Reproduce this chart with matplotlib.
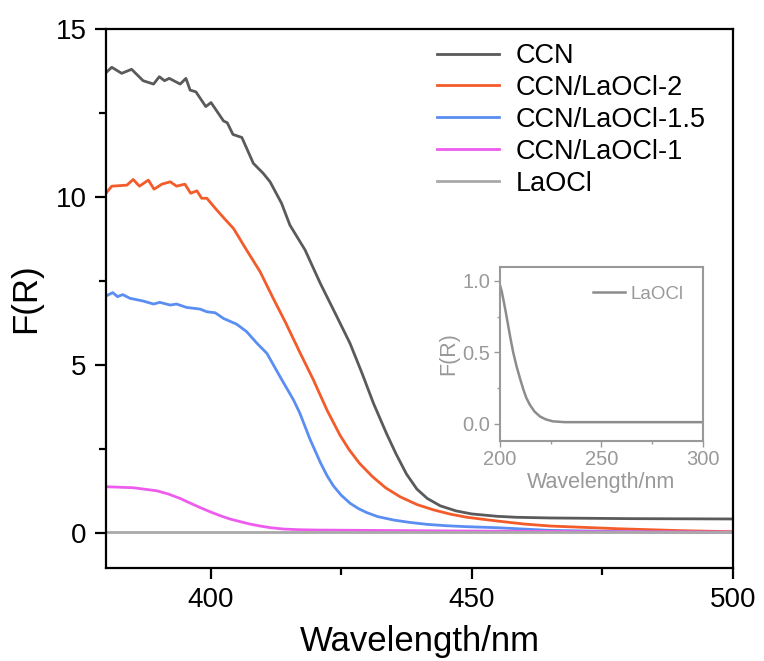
import matplotlib
matplotlib.use("Agg")
import matplotlib.pyplot as plt
from matplotlib.ticker import MultipleLocator

plt.rcParams['font.family'] = ['Liberation Sans', 'DejaVu Sans']

# ---- data ----
ccn_x = [380.0, 381.1, 383.0, 384.9, 387.1, 389.1, 390.2, 391.2, 392.1, 394.2, 395.3, 396.1,
         397.2, 399.1, 400.1, 402.5, 403.2, 404.3, 406.0, 408.2, 410.1, 411.4, 413.6, 415.2,
         418.1, 421.0, 424.2, 426.7, 429.0, 431.2, 433.7, 435.5, 437.5, 439.5, 441.5, 444.0,
         447.0, 450.0, 454.8, 458.6, 465.0, 480.0, 500.0]
ccn_y = [13.70, 13.86, 13.68, 13.80, 13.46, 13.36, 13.58, 13.46, 13.53, 13.36, 13.53, 13.18,
         13.13, 12.69, 12.81, 12.26, 12.21, 11.86, 11.77, 11.00, 10.70, 10.45, 9.81, 9.16,
         8.42, 7.43, 6.43, 5.64, 4.75, 3.85, 2.95, 2.35, 1.75, 1.30, 1.02, 0.80,
         0.65, 0.56, 0.49, 0.46, 0.44, 0.42, 0.41]

l2_x = [380.0, 381.1, 384.0, 385.2, 386.4, 388.1, 389.2, 390.7, 392.3, 393.5, 395.1, 396.2,
        397.4, 398.3, 399.3, 401.2, 402.8, 404.4, 406.9, 409.5, 412.0, 414.3, 417.1, 419.7,
        422.3, 424.8, 426.5, 428.5, 431.0, 433.5, 436.3, 439.5, 442.7, 446.0, 449.1, 454.8,
        460.0, 465.0, 477.8, 490.5, 500.0]
l2_y = [10.11, 10.32, 10.35, 10.52, 10.32, 10.50, 10.23, 10.38, 10.45, 10.32, 10.38, 10.11,
        10.18, 9.96, 9.96, 9.61, 9.33, 9.06, 8.42, 7.77, 6.98, 6.28, 5.37, 4.55,
        3.65, 2.90, 2.48, 2.07, 1.67, 1.34, 1.07, 0.84, 0.68, 0.55, 0.46, 0.35,
        0.26, 0.20, 0.12, 0.06, 0.03]

l15_x = [380.0, 381.3, 382.2, 383.2, 384.6, 387.1, 389.1, 390.3, 392.3, 393.5, 395.4, 398.0,
         399.3, 400.9, 402.5, 405.0, 406.9, 408.9, 410.8, 413.3, 415.9, 417.1, 419.0, 421.0,
         422.3, 423.5, 425.0, 426.7, 428.3, 429.9, 432.0, 435.0, 438.0, 441.4, 445.0, 449.1,
         454.8, 465.0, 484.0, 500.0]
l15_y = [7.05, 7.15, 7.03, 7.09, 6.98, 6.90, 6.81, 6.86, 6.78, 6.81, 6.71, 6.66,
         6.58, 6.55, 6.38, 6.21, 5.99, 5.64, 5.34, 4.65, 3.95, 3.56, 2.80, 2.10,
         1.70, 1.40, 1.12, 0.88, 0.72, 0.60, 0.48, 0.38, 0.31, 0.25, 0.21, 0.18,
         0.15, 0.07, 0.02, 0.01]

l1_x = [380.0, 385.2, 389.7, 392.0, 394.2, 396.0, 398.0, 400.0, 401.8, 403.7, 405.7, 407.5,
        409.5, 411.5, 414.0, 417.0, 420.4, 430.0, 450.0, 475.0, 500.0]
l1_y = [1.37, 1.34, 1.25, 1.15, 1.02, 0.89, 0.75, 0.62, 0.51, 0.41, 0.33, 0.26,
        0.20, 0.15, 0.11, 0.09, 0.08, 0.07, 0.05, 0.03, 0.02]

laocl_x = [380.0, 400.0, 450.0, 500.0]
laocl_y = [0.01, 0.01, 0.01, 0.01]

inset_x = [200.0, 200.8, 201.8, 203.0, 204.0, 205.0, 206.5, 208.2, 210.0, 211.5, 213.0, 214.8,
           217.0, 219.7, 222.5, 226.0, 232.0, 250.0, 275.0, 300.0]
inset_y = [0.97, 0.93, 0.86, 0.77, 0.69, 0.61, 0.50, 0.40, 0.31, 0.24, 0.18, 0.13,
           0.085, 0.05, 0.03, 0.016, 0.01, 0.01, 0.01, 0.01]

labels = ['CCN', 'CCN/LaOCl-2', 'CCN/LaOCl-1.5', 'CCN/LaOCl-1', 'LaOCl']
colors = ['#5a5a5a', '#f45b2a', '#5b8ef2', '#ee5cee', '#a9a9a9']

# ---- figure ----
fig = plt.figure(figsize=(7.64, 6.61), dpi=100)
ax = fig.add_axes([106/764, 1-568/661, (733-106)/764, (568-29)/661])

series = [(ccn_x, ccn_y), (l2_x, l2_y), (l15_x, l15_y), (l1_x, l1_y), (laocl_x, laocl_y)]
for (xs, ys), lab, c in zip(series, labels, colors):
    ax.plot(xs, ys, color=c, lw=2.0, label=lab, solid_joinstyle='round')

ax.set_xlim(380, 500)
ax.set_ylim(-1.05, 15)
ax.set_xticks([400, 450, 500])
ax.set_yticks([0, 5, 10, 15])
ax.xaxis.set_minor_locator(MultipleLocator(25))
ax.yaxis.set_minor_locator(MultipleLocator(2.5))
ax.tick_params(which='major', direction='out', length=8, width=1.6, labelsize=20, pad=6)
ax.tick_params(which='minor', direction='out', length=5, width=1.6)
ax.tick_params(top=False, right=False)
for s in ax.spines.values():
    s.set_linewidth(1.6)
ax.set_xlabel('Wavelength/nm', fontsize=25, labelpad=8)
ax.set_ylabel('F(R)', fontsize=25, labelpad=10)

leg = ax.legend(loc='upper left', bbox_to_anchor=(437/764, 1-43/661),
                bbox_transform=fig.transFigure, frameon=False, fontsize=19.5,
                handlelength=2.3, handletextpad=0.6, labelspacing=0.22,
                borderpad=0, borderaxespad=0)

# ---- inset ----
ig = '#999999'
ins = fig.add_axes([500/764, 1-440.7/661, 202.7/764, 174/661])
ins.plot(inset_x, inset_y, color='#8c8c8c', lw=1.8, label='LaOCl')
ins.set_xlim(200, 300)
ins.set_ylim(-0.12, 1.1)
ins.set_xticks([200, 250, 300])
ins.set_yticks([0.0, 0.5, 1.0])
ins.set_yticklabels(['0.0', '0.5', '1.0'])
ins.xaxis.set_minor_locator(MultipleLocator(25))
ins.yaxis.set_minor_locator(MultipleLocator(0.25))
ins.tick_params(which='major', direction='out', length=4, width=1.0, colors=ig, labelsize=14.5, pad=3)
ins.tick_params(which='minor', direction='out', length=2.5, width=1.0, colors=ig)
for s in ins.spines.values():
    s.set_color(ig)
    s.set_linewidth(1.5)
ins.set_xlabel('Wavelength/nm', fontsize=15.5, color=ig, labelpad=2)
ins.set_ylabel('F(R)', fontsize=15.5, color=ig, labelpad=2)
ileg = ins.legend(loc='upper right', frameon=False, fontsize=13.5, handlelength=1.7,
                  handletextpad=0.3, borderaxespad=0.6)
for t in ileg.get_texts():
    t.set_color(ig)

fig.savefig('out.png', dpi=100)
